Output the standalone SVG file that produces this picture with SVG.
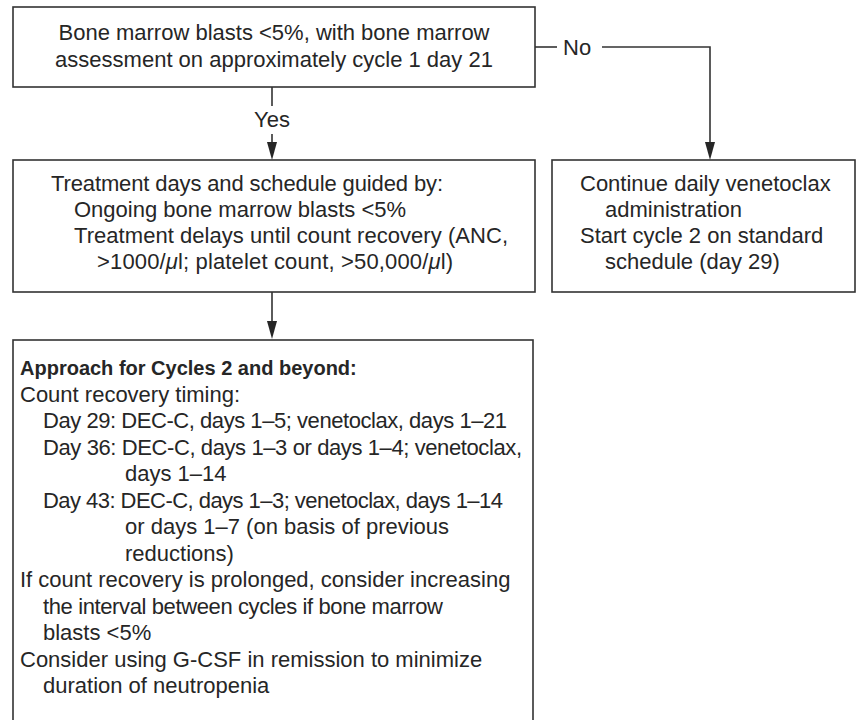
<svg xmlns="http://www.w3.org/2000/svg" width="857" height="720" viewBox="0 0 857 720">
<style>
.box{fill:#fff;stroke:#333;stroke-width:1.6}
.t{font-family:"Liberation Sans",Arial,sans-serif;font-size:22px;fill:#262626}
.c{text-anchor:middle}
.b{font-weight:bold;font-size:20px}
.ln{fill:none;stroke:#333;stroke-width:1.6}
.ah{fill:#262626}
</style>
<rect width="857" height="720" fill="#fff"/>
<g id="connectors">
<line class="ln" x1="272" y1="87" x2="272" y2="106"/>
<path class="ln" d="M272,134 V142"/>
<path class="ah" d="M267,142 L277,142 L272,160 Z"/>
<line class="ln" x1="535" y1="47" x2="557" y2="47"/>
<path class="ln" d="M602,47 H710 V142"/>
<path class="ah" d="M705,142 L715,142 L710,160 Z"/>
<path class="ln" d="M272,292 V321"/>
<path class="ah" d="M267,321 L277,321 L272,339 Z"/>
<text class="t c" x="272" y="127">Yes</text>
<text class="t" x="563" y="55">No</text>
</g>
<g id="n1">
<rect class="box" x="13" y="7" width="522" height="80"/>
<text class="t c" x="274" y="40">Bone marrow blasts &lt;5%, with bone marrow</text>
<text class="t c" x="274" y="67">assessment on approximately cycle 1 day 21</text>
</g>
<g id="n2">
<rect class="box" x="13" y="160" width="522" height="132"/>
<text class="t" x="51" y="191" textLength="392">Treatment days and schedule guided by:</text>
<text class="t" x="74" y="217">Ongoing bone marrow blasts &lt;5%</text>
<text class="t" x="74" y="243" textLength="434">Treatment delays until count recovery (ANC,</text>
<text class="t" x="97" y="269" textLength="356">&gt;1000/<tspan font-style="italic">μ</tspan>l; platelet count, &gt;50,000/<tspan font-style="italic">μ</tspan>l)</text>
</g>
<g id="n3">
<rect class="box" x="552" y="160" width="303" height="132"/>
<text class="t" x="580" y="191">Continue daily venetoclax</text>
<text class="t" x="605" y="217">administration</text>
<text class="t" x="580" y="243">Start cycle 2 on standard</text>
<text class="t" x="605" y="269">schedule (day 29)</text>
</g>
<g id="n4">
<rect class="box" x="13" y="340" width="520" height="400"/>
<text class="t b" x="20" y="375">Approach for Cycles 2 and beyond:</text>
<text class="t" x="20" y="401.5">Count recovery timing:</text>
<text class="t" x="43" y="428" textLength="464">Day 29: DEC-C, days 1–5; venetoclax, days 1–21</text>
<text class="t" x="43" y="454.5" textLength="479">Day 36: DEC-C, days 1–3 or days 1–4; venetoclax,</text>
<text class="t" x="125" y="481">days 1–14</text>
<text class="t" x="43" y="507.5" textLength="460">Day 43: DEC-C, days 1–3; venetoclax, days 1–14</text>
<text class="t" x="125" y="534">or days 1–7 (on basis of previous</text>
<text class="t" x="125" y="560.5">reductions)</text>
<text class="t" x="20" y="587">If count recovery is prolonged, consider increasing</text>
<text class="t" x="43" y="613.5" textLength="400">the interval between cycles if bone marrow</text>
<text class="t" x="43" y="640">blasts &lt;5%</text>
<text class="t" x="20" y="666.5">Consider using G-CSF in remission to minimize</text>
<text class="t" x="43" y="693">duration of neutropenia</text>
</g>
</svg>
